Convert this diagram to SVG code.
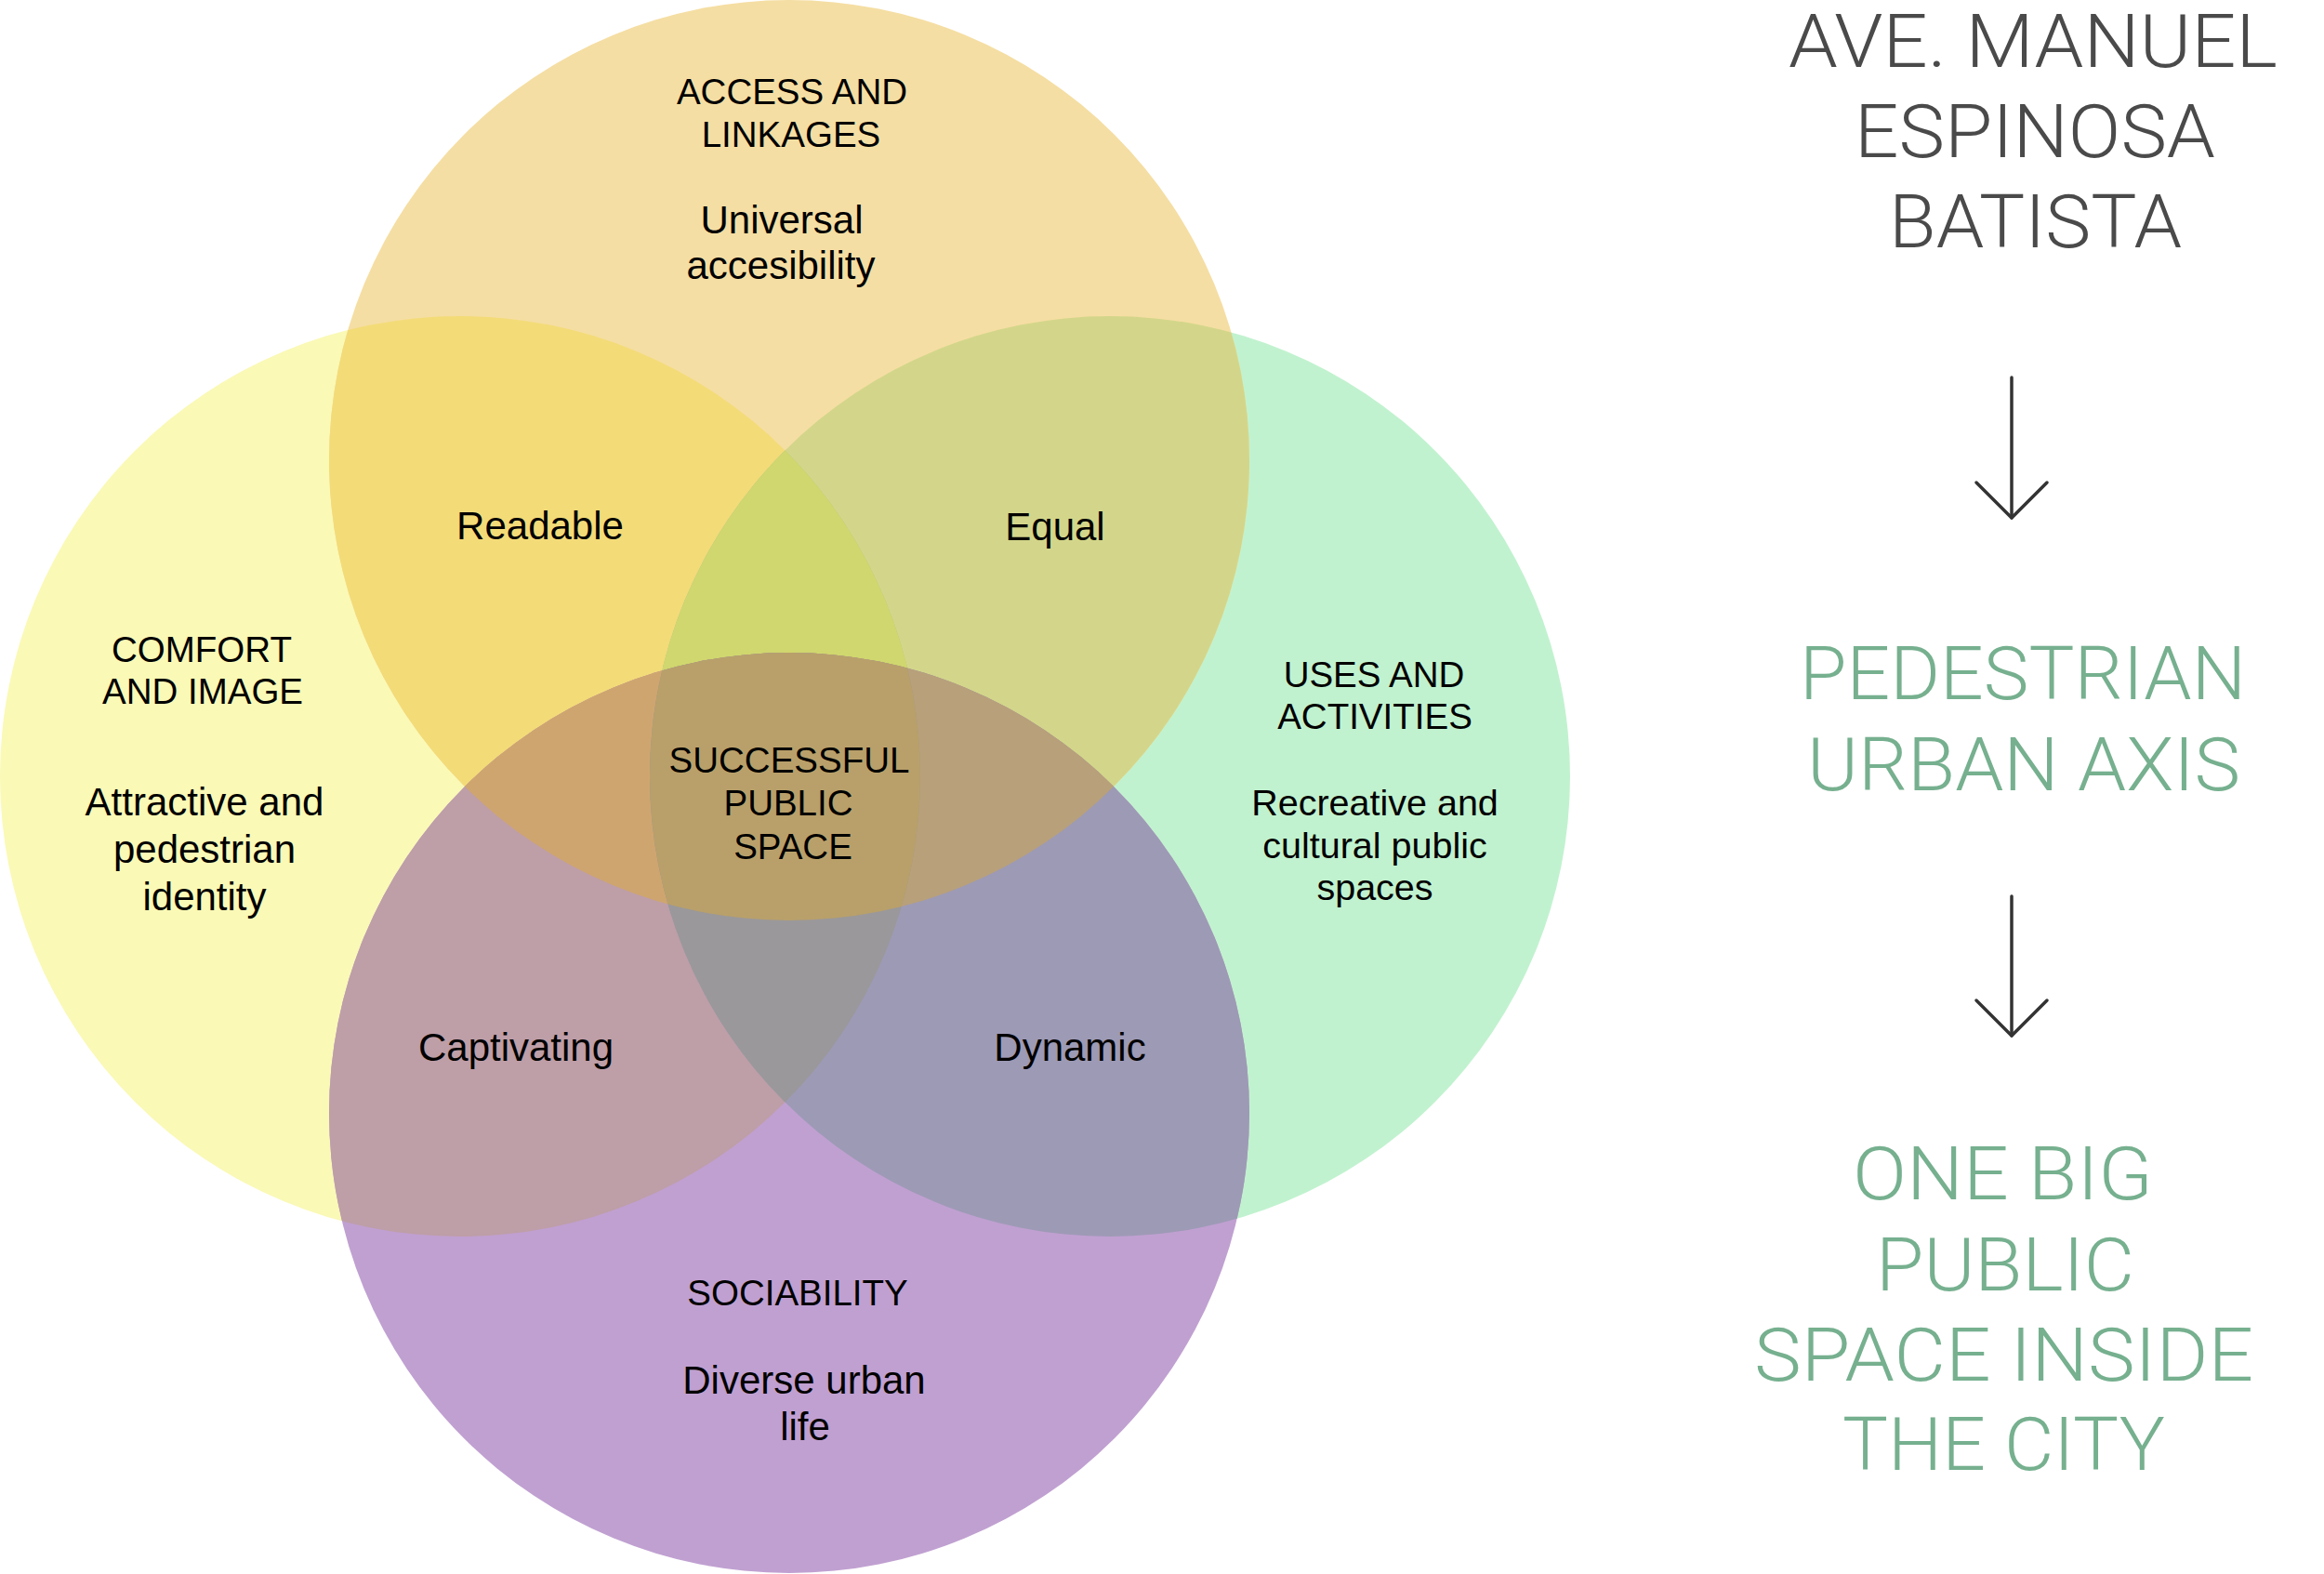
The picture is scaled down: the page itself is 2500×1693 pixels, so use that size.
<svg xmlns="http://www.w3.org/2000/svg" width="2500" height="1693" viewBox="0 0 2500 1693">
  <style>
    text { font-family: "Liberation Sans", Arial, sans-serif; fill: #000; text-anchor: middle; }
    .cap { font-size: 38.5px; }
    .body { font-size: 42px; }
    .body-s { font-size: 39.5px; }
    .title { font-family: Roboto, "Liberation Sans", sans-serif; font-weight: 300; font-size: 80px; text-anchor: start; }
    .gray { fill: #4a4a4a; }
    .green { fill: #76b08f; }
    .arrow { stroke: #333; stroke-width: 3.5; stroke-linecap: round; fill: none; }
  </style>
  <defs>
    <clipPath id="clipT"><circle cx="849" cy="495" r="495"/></clipPath>
    <clipPath id="clipL"><circle cx="495" cy="835" r="495"/></clipPath>
    <clipPath id="clipR"><circle cx="1194" cy="835" r="495"/></clipPath>
    <clipPath id="clipB"><circle cx="849" cy="1197" r="495"/></clipPath>
    <marker id="chev" markerUnits="userSpaceOnUse" viewBox="-42 -42 46 84" markerWidth="46" markerHeight="84" refX="0" refY="0" orient="auto">
      <path d="M -38 -38 L 0 0 L -38 38" fill="none" stroke="#333" stroke-width="3.5" stroke-linecap="round" stroke-linejoin="round"/>
    </marker>
  </defs>

  <!-- Venn circles: single regions -->
  <g id="venn-regions">
    <circle id="circle-comfort" cx="495" cy="835" r="495" fill="#faf9b6"/>
    <circle id="circle-uses" cx="1194" cy="835" r="495" fill="#c1f2cf"/>
    <circle id="circle-access" cx="849" cy="495" r="495" fill="#f5dea3"/>
    <circle id="circle-sociability" cx="849" cy="1197" r="495" fill="#c0a0d1"/>
    <!-- pairwise overlaps -->
    <g clip-path="url(#clipT)"><circle cx="495" cy="835" r="495" fill="#f3db78"/></g>
    <g clip-path="url(#clipT)"><circle cx="1194" cy="835" r="495" fill="#d3d68a"/></g>
    <g clip-path="url(#clipT)"><circle cx="849" cy="1197" r="495" fill="#cba370"/></g>
    <g clip-path="url(#clipL)"><circle cx="1194" cy="835" r="495" fill="#b0c48a"/></g>
    <g clip-path="url(#clipL)"><circle cx="849" cy="1197" r="495" fill="#be9ea7"/></g>
    <g clip-path="url(#clipR)"><circle cx="849" cy="1197" r="495" fill="#9d9ab5"/></g>
    <!-- triple overlaps -->
    <g clip-path="url(#clipT)"><g clip-path="url(#clipL)"><circle cx="1194" cy="835" r="495" fill="#d0d76e"/></g></g>
    <g clip-path="url(#clipT)"><g clip-path="url(#clipL)"><circle cx="849" cy="1197" r="495" fill="#cfa56f"/></g></g>
    <g clip-path="url(#clipT)"><g clip-path="url(#clipR)"><circle cx="849" cy="1197" r="495" fill="#b8a07b"/></g></g>
    <g clip-path="url(#clipL)"><g clip-path="url(#clipR)"><circle cx="849" cy="1197" r="495" fill="#9a989a"/></g></g>
    <!-- quadruple overlap -->
    <g clip-path="url(#clipT)"><g clip-path="url(#clipL)"><g clip-path="url(#clipR)"><circle cx="849" cy="1197" r="495" fill="#b9a06a"/></g></g></g>
  </g>

  <g id="node-access">
    <text class="cap" x="852" y="112">ACCESS AND</text>
    <text class="cap" x="851" y="158">LINKAGES</text>
    <text class="body" x="841" y="251">Universal</text>
    <text class="body" x="840" y="300">accesibility</text>
  </g>
  <g id="node-comfort">
    <text class="cap" x="217" y="712">COMFORT</text>
    <text class="cap" x="218" y="757">AND IMAGE</text>
    <text class="body" x="220" y="877">Attractive and</text>
    <text class="body" x="220" y="928">pedestrian</text>
    <text class="body" x="220" y="979">identity</text>
  </g>
  <g id="node-uses">
    <text class="cap" x="1478" y="739">USES AND</text>
    <text class="cap" x="1479" y="784">ACTIVITIES</text>
    <text class="body-s" x="1479" y="877">Recreative and</text>
    <text class="body-s" x="1479" y="923">cultural public</text>
    <text class="body-s" x="1479" y="968">spaces</text>
  </g>
  <g id="node-sociability">
    <text class="cap" x="858" y="1404">SOCIABILITY</text>
    <text class="body" x="865" y="1499">Diverse urban</text>
    <text class="body" x="866" y="1549">life</text>
  </g>
  <g id="node-readable"><text class="body" x="581" y="580">Readable</text></g>
  <g id="node-equal"><text class="body" x="1135" y="581">Equal</text></g>
  <g id="node-captivating"><text class="body" x="555" y="1141">Captivating</text></g>
  <g id="node-dynamic"><text class="body" x="1151" y="1141">Dynamic</text></g>
  <g id="node-successful">
    <text class="cap" x="849" y="831">SUCCESSFUL</text>
    <text class="cap" x="848" y="877">PUBLIC</text>
    <text class="cap" x="853" y="924">SPACE</text>
  </g>

  <g id="node-avenue">
    <text class="title gray" x="1924" y="72" textLength="526" lengthAdjust="spacingAndGlyphs">AVE. MANUEL</text>
    <text class="title gray" x="1995" y="169" textLength="388" lengthAdjust="spacingAndGlyphs">ESPINOSA</text>
    <text class="title gray" x="2032" y="266" textLength="315" lengthAdjust="spacingAndGlyphs">BATISTA</text>
  </g>
  <g id="node-axis">
    <text class="title green" x="1936" y="752" textLength="480" lengthAdjust="spacingAndGlyphs">PEDESTRIAN</text>
    <text class="title green" x="1944" y="850" textLength="466" lengthAdjust="spacingAndGlyphs">URBAN AXIS</text>
  </g>
  <g id="node-public">
    <text class="title green" x="1993" y="1290" textLength="323" lengthAdjust="spacingAndGlyphs">ONE BIG</text>
    <text class="title green" x="2018" y="1388" textLength="278" lengthAdjust="spacingAndGlyphs">PUBLIC</text>
    <text class="title green" x="1887" y="1485" textLength="537" lengthAdjust="spacingAndGlyphs">SPACE INSIDE</text>
    <text class="title green" x="1982" y="1581" textLength="347" lengthAdjust="spacingAndGlyphs">THE CITY</text>
  </g>

  <g id="connectors">
    <line class="arrow" x1="2164" y1="406" x2="2164" y2="557" marker-end="url(#chev)"/>
    <line class="arrow" x1="2164" y1="964" x2="2164" y2="1114" marker-end="url(#chev)"/>
  </g>
</svg>
